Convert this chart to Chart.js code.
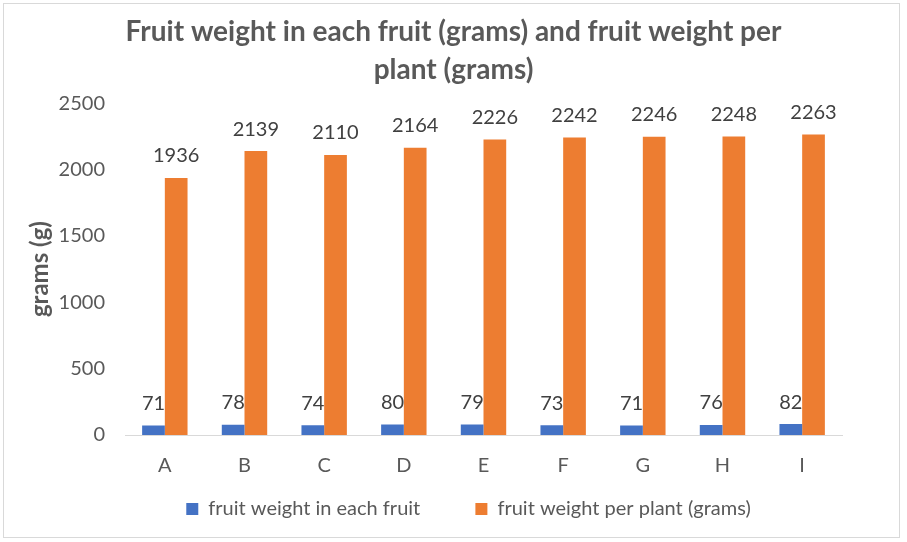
<!DOCTYPE html>
<html>
<head>
<meta charset="utf-8">
<script src="https://cdn.jsdelivr.net/npm/chart.js@4.4.0/dist/chart.umd.min.js"></script>
<style>
  html, body { margin: 0; padding: 0; background: #ffffff; }
  #wrap { position: relative; width: 907px; height: 542px; }
  #frame { position: absolute; left: 3px; top: 3px; width: 895px; height: 533px; border: 1px solid #d9d9d9; }
  canvas { position: absolute; left: 0; top: 0; }
</style>
</head>
<body>
<div id="wrap">
  <div id="frame"></div>
  <canvas id="chart" width="907" height="542"></canvas>
</div>
<script>
const categories = ['A', 'B', 'C', 'D', 'E', 'F', 'G', 'H', 'I'];
const eachFruit = [71, 78, 74, 80, 79, 73, 71, 76, 82];
const perPlant = [1936, 2139, 2110, 2164, 2226, 2242, 2246, 2248, 2263];
const yTicks = [0, 500, 1000, 1500, 2000, 2500];

const FONT = "Lato, 'Open Sans', sans-serif";

// invisible trailing room after each legend entry (wider gap like the original)
const legendTail = ['\u2003\u2003 ', '\u2003\u2003'];

// draws the value above every bar
const valueLabels = {
  id: 'valueLabels',
  afterDatasetsDraw(chart) {
    const ctx = chart.ctx;
    ctx.save();
    ctx.font = '20px ' + FONT;
    ctx.fillStyle = '#404040';
    ctx.textAlign = 'center';
    ctx.textBaseline = 'middle';
    chart.data.datasets.forEach((ds, i) => {
      chart.getDatasetMeta(i).data.forEach((bar, j) => {
        ctx.fillText(ds.data[j], bar.x, bar.y - 22);
      });
    });
    ctx.restore();
  }
};

new Chart(document.getElementById('chart'), {
  type: 'bar',
  data: {
    labels: categories,
    datasets: [
      { label: 'fruit weight in each fruit', data: eachFruit, backgroundColor: '#4472c4' },
      { label: 'fruit weight per plant (grams)', data: perPlant, backgroundColor: '#ed7d31' }
    ]
  },
  options: {
    responsive: false,
    animation: false,
    devicePixelRatio: 1,
    layout: { padding: { left: 20, right: 20, top: 0, bottom: 13 } },
    datasets: { bar: { categoryPercentage: 0.57, barPercentage: 1 } },
    plugins: {
      title: {
        display: true,
        text: ['Fruit weight in each fruit (grams) and fruit weight per', 'plant (grams)'],
        color: '#595959',
        font: { family: FONT, size: 28, weight: 'bold', lineHeight: 1.36 },
        padding: { top: 13, bottom: 14 }
      },
      legend: {
        position: 'bottom',
        fullSize: false,
        labels: {
          color: '#595959',
          font: { family: FONT, size: 20 },
          boxWidth: 12,
          boxHeight: 12,
          padding: 20,
          generateLabels(chart) {
            const items = Chart.defaults.plugins.legend.labels.generateLabels(chart);
            items.forEach((it, i) => { it.text += legendTail[i]; });
            return items;
          }
        }
      },
      tooltip: { enabled: false }
    },
    scales: {
      x: {
        afterFit(axis) { axis.height = 44; },
        grid: { display: false, drawTicks: false },
        border: { color: '#d9d9d9', width: 1 },
        ticks: { color: '#595959', font: { family: FONT, size: 20 }, padding: 19 }
      },
      y: {
        min: 0,
        max: 2500,
        afterBuildTicks(axis) { axis.ticks = yTicks.map(v => ({ value: v })); },
        afterFit(axis) { axis.width = 105; },
        grid: { display: false, drawTicks: false },
        border: { display: false },
        ticks: { color: '#595959', font: { family: FONT, size: 20 }, padding: 20, callback: v => String(v) },
        title: {
          display: true,
          text: 'grams (g)',
          color: '#595959',
          font: { family: FONT, size: 24, weight: 'bold' },
          padding: { top: 6, bottom: 0 }
        }
      },
      // empty axis on the right, only to keep the right margin
      yRight: {
        position: 'right',
        afterFit(axis) { axis.width = 45; },
        grid: { display: false, drawTicks: false },
        border: { display: false },
        ticks: { display: false }
      }
    }
  },
  plugins: [valueLabels]
});
</script>
</body>
</html>
